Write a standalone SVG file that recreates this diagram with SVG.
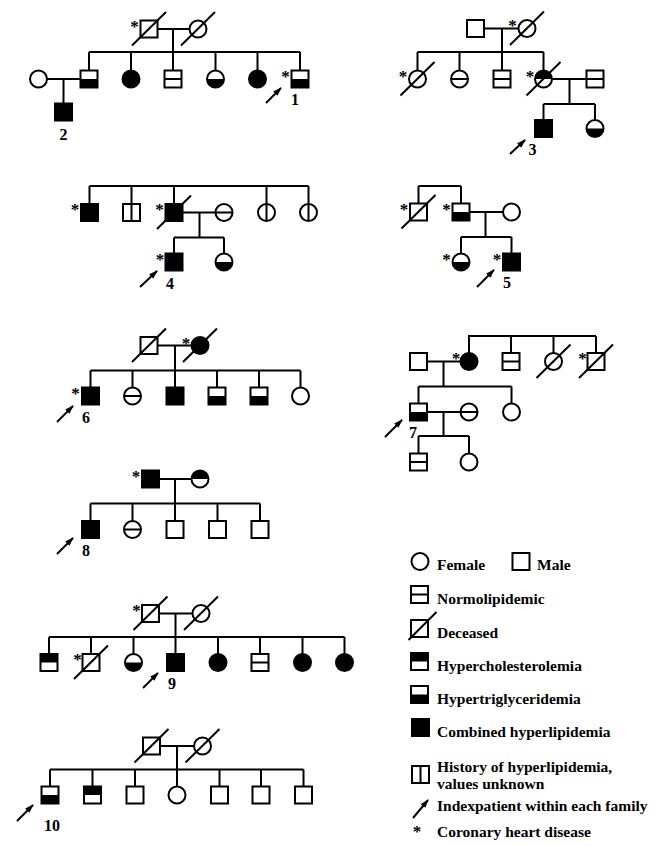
<svg xmlns="http://www.w3.org/2000/svg" xmlns:xlink="http://www.w3.org/1999/xlink" width="667" height="846" viewBox="0 0 667 846">
<style>
.ln{stroke:#000;stroke-width:2;fill:none}
.sh{fill:#fff;stroke:#000;stroke-width:2}
.bk{fill:#000;stroke:#000;stroke-width:2}
.hf{fill:#000;stroke:none}
.dc{stroke:#000;stroke-width:2}
.st{font-family:"Liberation Serif",serif;font-weight:bold;font-size:17px;text-anchor:middle;fill:#000}
.nm{font-family:"Liberation Serif",serif;font-weight:bold;font-size:16px;text-anchor:middle}
.lg{font-family:"Liberation Serif",serif;font-weight:bold;font-size:15.5px}
.ar{stroke:#000;stroke-width:2;marker-end:url(#ah)}
</style>
<defs>
<marker id="ah" markerUnits="userSpaceOnUse" markerWidth="9" markerHeight="7" refX="8" refY="3.5" orient="auto"><path d="M0,0.5 L9,3.5 L0,6.5 Z" fill="#000"/></marker>
<g id="sq"><rect class="sh" x="-8.5" y="-8.5" width="17" height="17"/></g>
<g id="sqF"><rect class="bk" x="-8.5" y="-8.5" width="17" height="17"/></g>
<g id="sqB"><rect class="sh" x="-8.5" y="-8.5" width="17" height="17"/><rect class="hf" x="-8.5" y="0" width="17" height="8.5"/></g>
<g id="sqT"><rect class="sh" x="-8.5" y="-8.5" width="17" height="17"/><rect class="hf" x="-8.5" y="-8.5" width="17" height="8.5"/></g>
<g id="sqH"><rect class="sh" x="-8.5" y="-8.5" width="17" height="17"/><line class="dc" x1="-8.5" y1="0" x2="8.5" y2="0"/></g>
<g id="sqV"><rect class="sh" x="-8.5" y="-8.5" width="17" height="17"/><line class="dc" x1="0" y1="-8.5" x2="0" y2="8.5"/></g>
<g id="ci"><circle class="sh" r="8.5"/></g>
<g id="ciF"><circle class="bk" r="8.5"/></g>
<g id="ciB"><circle class="sh" r="8.5"/><path class="hf" d="M-8.5,0 A8.5,8.5 0 0 0 8.5,0 Z"/></g>
<g id="ciT"><circle class="sh" r="8.5"/><path class="hf" d="M-8.5,0 A8.5,8.5 0 0 1 8.5,0 Z"/></g>
<g id="ciH"><circle class="sh" r="8.5"/><line class="dc" x1="-8.5" y1="0" x2="8.5" y2="0"/></g>
<g id="ciV"><circle class="sh" r="8.5"/><line class="dc" x1="0" y1="-8.5" x2="0" y2="8.5"/></g>
<line id="dec" class="dc" x1="-17" y1="16.5" x2="17" y2="-17"/>
</defs>
<rect width="667" height="846" fill="#fff"/>

<g id="connectors" class="ln">
<!-- family 1 -->
<path d="M157.5,29 H189.5 M173,29 V70.5 M89,52 H300 M89,52 V70.5 M131,52 V70.5 M215.5,52 V70.5 M257.5,52 V70.5 M300,52 V70.5 M47,79 H80.5 M63.5,79 V103.5"/>
<!-- family 3 -->
<path d="M484,28.5 H518.5 M502,28.5 V70.5 M417.5,52 H543.5 M417.5,52 V70.5 M459.5,52 V70.5 M543.5,52 V70.5 M552,79 H586.5 M569.5,79 V104 M543.5,104 H595 M543.5,104 V120 M595,104 V120"/>
<!-- family 4 -->
<path d="M89.5,186 H308.5 M89.5,186 V204 M131.5,186 V204 M174,186 V204 M266.5,186 V204 M308.5,186 V204 M182.5,212.5 H215.5 M199.5,212.5 V237.5 M174,237.5 H224 M174,237.5 V253.5 M224,237.5 V253.5"/>
<!-- family 5 -->
<path d="M418.5,186 H461 M418.5,186 V203.5 M461,186 V203.5 M469.5,212 H503 M485.5,212 V237 M461,237 H511.5 M461,237 V253.5 M511.5,237 V253.5"/>
<!-- family 6 -->
<path d="M157.5,345.5 H191.5 M175,345.5 V387.5 M90.5,370.5 H300.5 M90.5,370.5 V387.5 M132.5,370.5 V387.5 M217,370.5 V387.5 M259,370.5 V387.5 M300.5,370.5 V387.5"/>
<!-- family 7 -->
<path d="M427,361.5 H460.5 M443.5,361.5 V386.5 M469,353 V336 H596 M511,336 V353 M553.5,336 V353 M596,336 V353 M418.5,386.5 H511.5 M418.5,386.5 V403.5 M511.5,386.5 V403.5 M427,412 H460.5 M443.5,412 V436 M418.5,436 H469 M418.5,436 V453.5 M469,436 V453.5"/>
<!-- family 8 -->
<path d="M159,479 H191.5 M175,479 V521 M90.5,503.5 H260 M90.5,503.5 V521 M132.5,503.5 V521 M217.5,503.5 V521 M260,503.5 V521"/>
<!-- family 9 -->
<path d="M159,613.5 H192.5 M175.5,613.5 V654 M49,637 H344.5 M49,637 V654 M91,637 V654 M133.5,637 V654 M218,637 V654 M260,637 V654 M302.5,637 V654 M344.5,637 V654"/>
<!-- family 10 -->
<path d="M160,746 H194 M177,746 V786.5 M50,769.5 H303.5 M50,769.5 V786.5 M92.5,769.5 V786.5 M135,769.5 V786.5 M219.5,769.5 V786.5 M261,769.5 V786.5 M303.5,769.5 V786.5"/>
</g>

<!-- Family 1 -->
<g id="f1-I1"><use href="#sq" x="149" y="29"/><use href="#dec" x="149" y="29"/><text class="st" x="134.5" y="31.5">*</text></g>
<g id="f1-I2"><use href="#ci" x="198" y="29"/><use href="#dec" x="198" y="29"/></g>
<g id="f1-II1"><use href="#ci" x="38.5" y="79"/></g>
<g id="f1-II2"><use href="#sqB" x="89" y="79"/></g>
<g id="f1-II3"><use href="#ciF" x="131" y="79"/></g>
<g id="f1-II4"><use href="#sqH" x="173" y="79"/></g>
<g id="f1-II5"><use href="#ciB" x="215.5" y="79"/></g>
<g id="f1-II6"><use href="#ciF" x="257.5" y="79"/></g>
<g id="f1-II7"><use href="#sqB" x="300" y="79"/><text class="st" x="285.5" y="81.5">*</text><line class="ar" x1="266" y1="103" x2="281" y2="88"/><text class="nm" x="295" y="105">1</text></g>
<g id="f1-III1"><use href="#sqF" x="63.5" y="112"/><text class="nm" x="63.5" y="140">2</text></g>

<!-- Family 3 -->
<g id="f3-I1"><use href="#sq" x="475.5" y="28.5"/></g>
<g id="f3-I2"><use href="#ci" x="527" y="28.5"/><use href="#dec" x="527" y="28.5"/><text class="st" x="512.5" y="31">*</text></g>
<g id="f3-II1"><use href="#ci" x="417.5" y="79"/><use href="#dec" x="417.5" y="79"/><text class="st" x="403" y="81.5">*</text></g>
<g id="f3-II2"><use href="#ciH" x="459.5" y="79"/></g>
<g id="f3-II3"><use href="#sqH" x="502" y="79"/></g>
<g id="f3-II4"><use href="#ciT" x="543.5" y="79"/><use href="#dec" x="543.5" y="79"/><text class="st" x="530" y="81.5">*</text></g>
<g id="f3-II5"><use href="#sqH" x="595" y="79"/></g>
<g id="f3-III1"><use href="#sqF" x="543.5" y="128.5"/><line class="ar" x1="510" y1="154" x2="525" y2="140"/><text class="nm" x="532.5" y="155">3</text></g>
<g id="f3-III2"><use href="#ciB" x="595" y="128.5"/></g>

<!-- Family 4 -->
<g id="f4-I1"><use href="#sqF" x="89.5" y="212.5"/><text class="st" x="75" y="215">*</text></g>
<g id="f4-I2"><use href="#sqV" x="131.5" y="212.5"/></g>
<g id="f4-I3"><use href="#sqF" x="174" y="212.5"/><use href="#dec" x="174" y="212.5"/><text class="st" x="159.5" y="215">*</text></g>
<g id="f4-I4"><use href="#ciH" x="224" y="212.5"/></g>
<g id="f4-I5"><use href="#ciV" x="266.5" y="212.5"/></g>
<g id="f4-I6"><use href="#ciV" x="308.5" y="212.5"/></g>
<g id="f4-II1"><use href="#sqF" x="174" y="262"/><text class="st" x="160" y="264.5">*</text><line class="ar" x1="140" y1="287" x2="157" y2="271"/><text class="nm" x="170" y="289">4</text></g>
<g id="f4-II2"><use href="#ciB" x="224" y="262"/></g>

<!-- Family 5 -->
<g id="f5-I1"><use href="#sq" x="418.5" y="212"/><use href="#dec" x="418.5" y="212"/><text class="st" x="404" y="214.5">*</text></g>
<g id="f5-I2"><use href="#sqB" x="461" y="212"/><text class="st" x="446.5" y="214.5">*</text></g>
<g id="f5-I3"><use href="#ci" x="511.5" y="212"/></g>
<g id="f5-II1"><use href="#ciB" x="461" y="262"/><text class="st" x="446.5" y="264.5">*</text></g>
<g id="f5-II2"><use href="#sqF" x="511.5" y="262"/><text class="st" x="497" y="264.5">*</text><line class="ar" x1="477" y1="287" x2="494" y2="270"/><text class="nm" x="507" y="288">5</text></g>

<!-- Family 6 -->
<g id="f6-I1"><use href="#sq" x="149" y="345.5"/><use href="#dec" x="149" y="345.5"/></g>
<g id="f6-I2"><use href="#ciF" x="200" y="345.5"/><use href="#dec" x="200" y="345.5"/><text class="st" x="186" y="349">*</text></g>
<g id="f6-II1"><use href="#sqF" x="90.5" y="396"/><text class="st" x="75.5" y="398.5">*</text><line class="ar" x1="57" y1="422" x2="73" y2="406"/><text class="nm" x="86" y="422.5">6</text></g>
<g id="f6-II2"><use href="#ciH" x="132.5" y="396"/></g>
<g id="f6-II3"><use href="#sqF" x="175" y="396"/></g>
<g id="f6-II4"><use href="#sqB" x="217" y="396"/></g>
<g id="f6-II5"><use href="#sqB" x="259" y="396"/></g>
<g id="f6-II6"><use href="#ci" x="300.5" y="396"/></g>

<!-- Family 7 -->
<g id="f7-I1"><use href="#sq" x="418.5" y="361.5"/></g>
<g id="f7-I2"><use href="#ciF" x="469" y="361.5"/><text class="st" x="456" y="364">*</text></g>
<g id="f7-I3"><use href="#sqH" x="511" y="361.5"/></g>
<g id="f7-I4"><use href="#ci" x="553.5" y="361.5"/><use href="#dec" x="553.5" y="361.5"/></g>
<g id="f7-I5"><use href="#sq" x="596" y="361.5"/><use href="#dec" x="596" y="361.5"/><text class="st" x="582.5" y="364">*</text></g>
<g id="f7-II1"><use href="#sqB" x="418.5" y="412"/><line class="ar" x1="385" y1="437" x2="402" y2="420"/><text class="nm" x="413" y="438">7</text></g>
<g id="f7-II2"><use href="#ciH" x="469" y="412"/></g>
<g id="f7-II3"><use href="#ci" x="511.5" y="412"/></g>
<g id="f7-III1"><use href="#sqH" x="418.5" y="462"/></g>
<g id="f7-III2"><use href="#ci" x="469" y="462"/></g>

<!-- Family 8 -->
<g id="f8-I1"><use href="#sqF" x="150.5" y="479"/><text class="st" x="136" y="481.5">*</text></g>
<g id="f8-I2"><use href="#ciT" x="200" y="479"/></g>
<g id="f8-II1"><use href="#sqF" x="90.5" y="529.5"/><line class="ar" x1="57" y1="554" x2="73" y2="538"/><text class="nm" x="86" y="556">8</text></g>
<g id="f8-II2"><use href="#ciH" x="132.5" y="529.5"/></g>
<g id="f8-II3"><use href="#sq" x="175" y="529.5"/></g>
<g id="f8-II4"><use href="#sq" x="217.5" y="529.5"/></g>
<g id="f8-II5"><use href="#sq" x="260" y="529.5"/></g>

<!-- Family 9 -->
<g id="f9-I1"><use href="#sq" x="150.5" y="613.5"/><use href="#dec" x="150.5" y="613.5"/><text class="st" x="136.5" y="616">*</text></g>
<g id="f9-I2"><use href="#ci" x="201" y="613.5"/><use href="#dec" x="201" y="613.5"/></g>
<g id="f9-II1"><use href="#sqT" x="49" y="662.5"/></g>
<g id="f9-II2"><use href="#sq" x="91" y="662.5"/><use href="#dec" x="91" y="662.5"/><text class="st" x="77.5" y="665">*</text></g>
<g id="f9-II3"><use href="#ciB" x="133.5" y="662.5"/></g>
<g id="f9-II4"><use href="#sqF" x="175.5" y="662.5"/><line class="ar" x1="143" y1="688" x2="158" y2="673"/><text class="nm" x="172" y="689">9</text></g>
<g id="f9-II5"><use href="#ciF" x="218" y="662.5"/></g>
<g id="f9-II6"><use href="#sqH" x="260" y="662.5"/></g>
<g id="f9-II7"><use href="#ciF" x="302.5" y="662.5"/></g>
<g id="f9-II8"><use href="#ciF" x="344.5" y="662.5"/></g>

<!-- Family 10 -->
<g id="f10-I1"><use href="#sq" x="151.5" y="746"/><use href="#dec" x="151.5" y="746"/></g>
<g id="f10-I2"><use href="#ci" x="202.5" y="746"/><use href="#dec" x="202.5" y="746"/></g>
<g id="f10-II1"><use href="#sqB" x="50" y="795"/><line class="ar" x1="17" y1="821" x2="33" y2="805"/><text class="nm" x="52" y="831">10</text></g>
<g id="f10-II2"><use href="#sqT" x="92.5" y="795"/></g>
<g id="f10-II3"><use href="#sq" x="135" y="795"/></g>
<g id="f10-II4"><use href="#ci" x="177" y="795"/></g>
<g id="f10-II5"><use href="#sq" x="219.5" y="795"/></g>
<g id="f10-II6"><use href="#sq" x="261" y="795"/></g>
<g id="f10-II7"><use href="#sq" x="303.5" y="795"/></g>

<!-- Legend -->
<g id="legend">
<use href="#ci" x="420" y="561.5"/><text class="lg" x="437" y="570">Female</text>
<use href="#sq" x="521" y="561.5"/><text class="lg" x="537" y="570">Male</text>
<use href="#sqH" x="419.5" y="594.5"/><text class="lg" x="437" y="604">Normolipidemic</text>
<use href="#sq" x="419.5" y="628.5"/><line class="dc" x1="408.5" y1="640" x2="436.5" y2="612"/><text class="lg" x="437" y="638">Deceased</text>
<use href="#sqT" x="419.5" y="661.5"/><text class="lg" x="437" y="671">Hypercholesterolemia</text>
<use href="#sqB" x="419.5" y="694.5"/><text class="lg" x="437" y="704">Hypertriglyceridemia</text>
<use href="#sqF" x="420.5" y="727.5"/><text class="lg" x="437" y="737">Combined hyperlipidemia</text>
<use href="#sqV" x="420.5" y="774.5"/><text class="lg" x="437" y="772">History of hyperlipidemia,</text><text class="lg" x="437" y="788.5">values unknown</text>
<line class="ar" x1="413" y1="818" x2="428" y2="800"/><text class="lg" x="437" y="811">Indexpatient within each family</text>
<text class="st" x="417" y="837">*</text><text class="lg" x="437" y="837">Coronary heart disease</text>
</g>
</svg>
